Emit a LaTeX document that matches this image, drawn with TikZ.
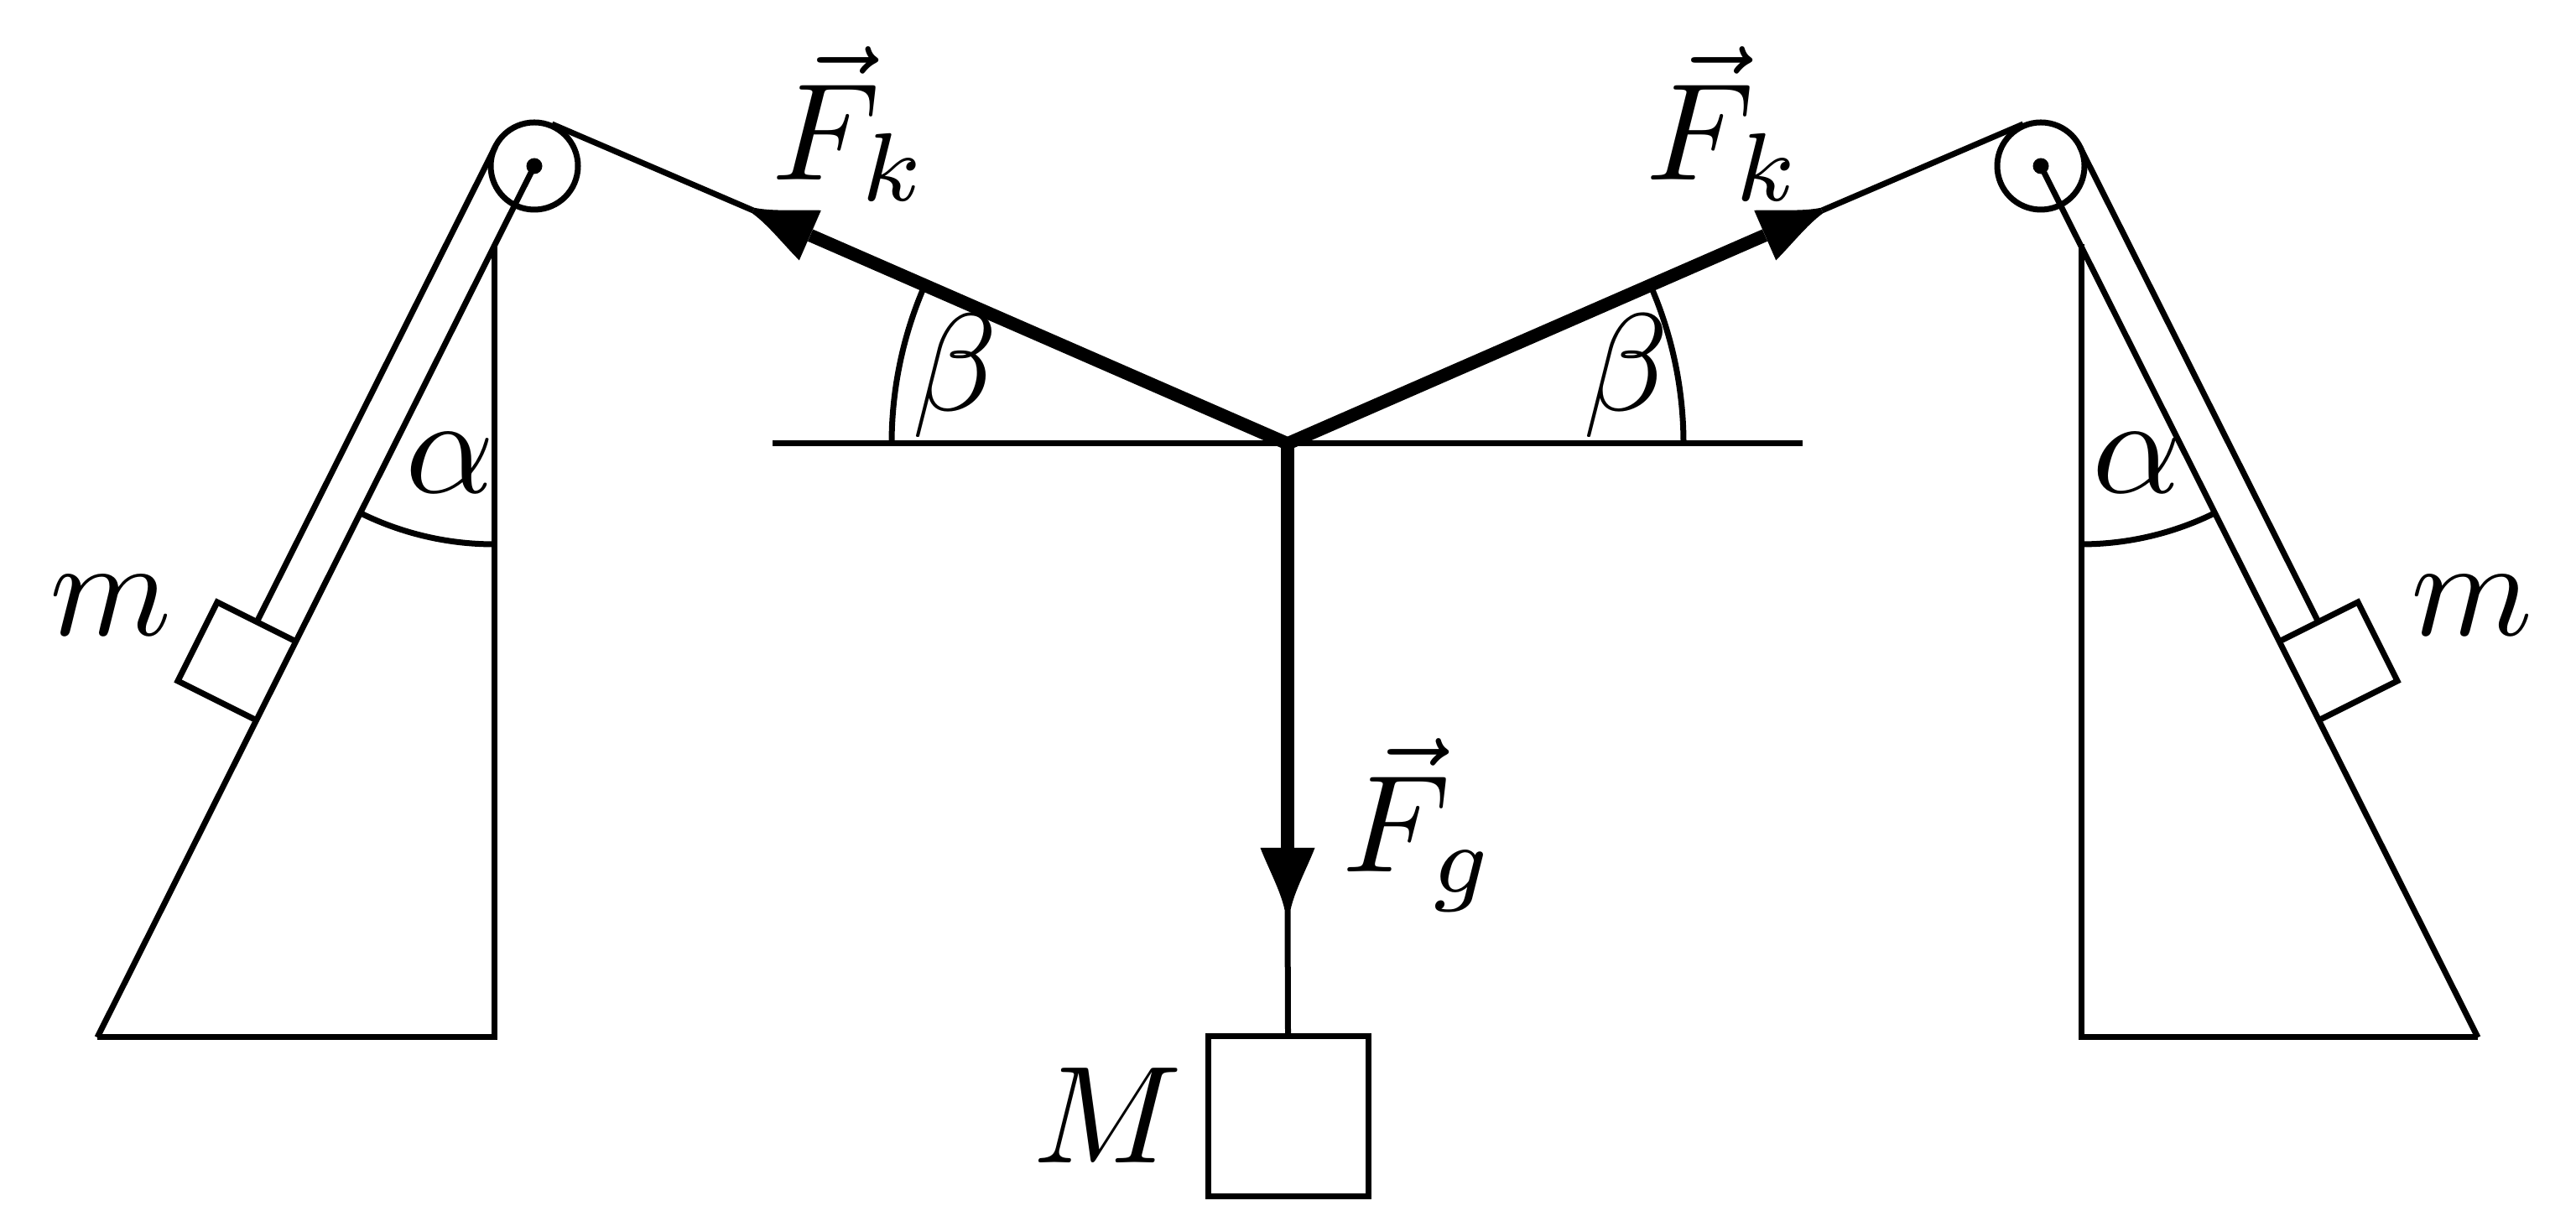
\documentclass[tikz,border=0pt]{standalone}
\tikzset{
	thin rope/.style={line width=0.07cm},
	force/.style={line width=0.155cm},
	marktext/.style={inner sep=0pt, anchor=base west, font=\normalsize, scale=4.7},
	forcetip/.pic={
		\fill (0, 0.035) .. controls (-0.22, 0.08) and (-0.52, 0.24) .. (-0.74, 0.325)
			-- (-0.74, -0.325) .. controls (-0.52, -0.24) and (-0.22, -0.08) .. (0, -0.035) -- cycle;
	}
}
\begin{document}
\begin{tikzpicture}
	\useasboundingbox (0, 0) rectangle (30.71, 14.44);
	\coordinate (O) at (15.35, 9.15);

	\foreach \n/\sx/\ang in {l/1/156.4, r/-1/23.6} {
		\begin{scope}[shift={(15.35, 0)}, xscale=\sx, thin rope]
			\coordinate (corner\n) at (-14.19, 2.07);
			\coordinate (foot\n) at (-9.46, 2.07);
			\coordinate (apex\n) at (-9.46, 11.53);
			\coordinate (pulley\n) at (-8.98, 12.46);
			\coordinate (top\n) at (-8.77, 12.96);
			\coordinate (side\n) at (-9.445, 12.69);
			\coordinate (hook\n) at (-12.29, 7.02);
			\coordinate (tip\n) at (-6.37, 11.93);
			\coordinate (base\n) at (-5.69, 11.634);

			\draw (corner\n) -- (foot\n) -- (apex\n);
			\draw (corner\n) -- (pulley\n);
			\draw (pulley\n) circle (0.52);
			\fill (pulley\n) circle (0.095);
			\draw (side\n) -- (hook\n);
			\draw (top\n) -- (tip\n);

			% block on the slope
			\draw (-11.82, 6.79) -- (-12.76, 7.26) -- (-13.23, 6.32) -- (-12.29, 5.85);

			% angles
			\draw (-9.46, 7.95) arc [start angle=270, end angle=243.43, radius=3.6];
			\draw (-4.72, 9.15) arc [start angle=180, end angle=156.4, radius=4.72];

			\path (tip\n) pic[rotate=\ang] {forcetip};
		\end{scope}
	}

	\draw[thin rope] (9.21, 9.15) -- (21.49, 9.15);
	\draw[force] (basel) -- (O) -- (baser);

	\node[draw, thin rope, minimum size=1.91cm, inner sep=0pt] (boxM) at (15.355, 1.13) {};
	\coordinate (tipg) at (15.35, 3.59);
	\coordinate (baseg) at (15.35, 4.33);
	\draw[thin rope] (tipg) -- (boxM.north);
	\draw[force] (O) -- (baseg);
	\path (tipg) pic[rotate=-90] {forcetip};

	\node[marktext] (forcel) at (9.17, 12.29) {$\vec{F}_k$};
	\node[marktext] (forcer) at (19.59, 12.29) {$\vec{F}_k$};
	\node[marktext] (forceg) at (15.97, 4.04) {$\vec{F}_g$};
	\node[marktext] (massM) at (12.28, 0.57) {$M$};
	\node[marktext] (massl) at (0.56, 6.86) {$m$};
	\node[marktext] (massr) at (28.71, 6.86) {$m$};
	\node[marktext] (alphal) at (4.80, 8.56) {$\alpha$};
	\node[marktext] (alphar) at (24.91, 8.56) {$\alpha$};
	\node[marktext] (betal) at (10.84, 9.54) {$\beta$};
	\node[marktext] (betar) at (18.84, 9.54) {$\beta$};
\end{tikzpicture}
\end{document}
